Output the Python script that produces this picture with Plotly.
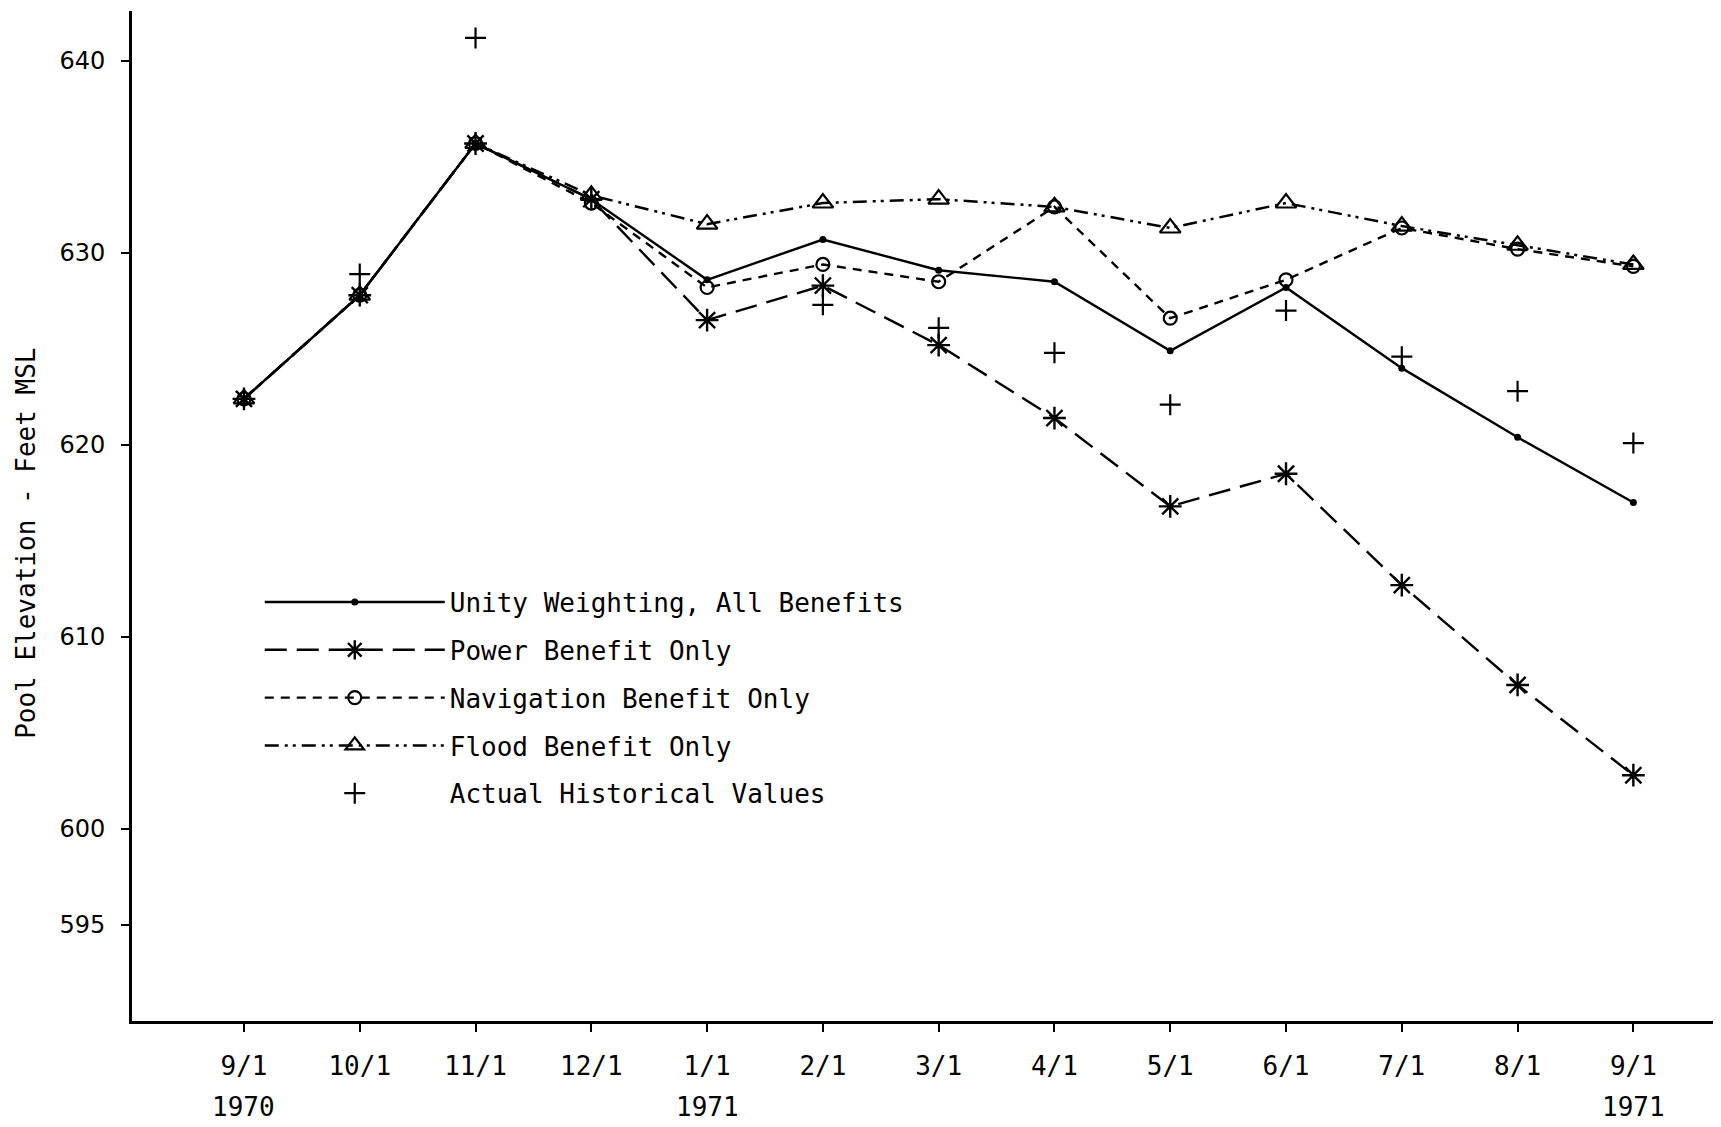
import plotly.graph_objects as go

months = ["9/1", "10/1", "11/1", "12/1", "1/1", "2/1", "3/1", "4/1", "5/1", "6/1", "7/1", "8/1", "9/1"]
years = ["1970", "", "", "", "1971", "", "", "", "", "", "", "", "1971"]
x_idx = list(range(len(months)))

unity = [622.4, 627.8, 635.7, 632.8, 628.6, 630.7, 629.1, 628.5, 624.9, 628.2, 624.0, 620.4, 617.0]
power = [622.4, 627.8, 635.7, 632.8, 626.5, 628.3, 625.2, 621.4, 616.8, 618.5, 612.7, 607.5, 602.8]
navigation = [622.4, 627.8, 635.7, 632.6, 628.2, 629.4, 628.5, 632.4, 626.6, 628.6, 631.3, 630.2, 629.3]
flood = [622.4, 627.8, 635.7, 633.0, 631.5, 632.6, 632.8, 632.4, 631.3, 632.6, 631.4, 630.4, 629.4]
historical = [None, 628.9, 641.2, None, None, 627.3, 626.1, 624.8, 622.1, 627.0, 624.6, 622.8, 620.1]

y_tickvals = [595, 600, 610, 620, 630, 640]

MONO = "DejaVu Sans Mono"

fig = go.Figure()

fig.add_trace(go.Scatter(
    x=x_idx, y=flood, mode="lines+markers", name="Flood Benefit Only",
    line=dict(color="black", width=2.5, dash="14px,6px,3px,5px,3px,6px"),
    marker=dict(symbol="triangle-up-open", size=18, color="black", line=dict(width=2.2, color="black")),
    legendrank=4, legendgroup="g4",
))
fig.add_trace(go.Scatter(
    x=x_idx, y=navigation, mode="lines+markers", name="Navigation Benefit Only",
    line=dict(color="black", width=2.4, dash="9px,7px"),
    marker=dict(symbol="circle-open", size=13, color="black", line=dict(width=2.2, color="black")),
    legendrank=3, legendgroup="g3",
))
fig.add_trace(go.Scatter(
    x=x_idx, y=power, mode="lines+markers", name="Power Benefit Only",
    line=dict(color="black", width=2.4, dash="22px,10px"),
    marker=dict(symbol="asterisk-open", size=19, color="black", line=dict(width=2.4, color="black")),
    legendrank=2, legendgroup="g2",
))
fig.add_trace(go.Scatter(
    x=x_idx, y=unity, mode="lines+markers", name="Unity Weighting, All Benefits",
    line=dict(color="black", width=2.4),
    marker=dict(symbol="circle", size=7, color="black"),
    legendrank=1, legendgroup="g1",
))
fig.add_trace(go.Scatter(
    x=x_idx, y=historical, mode="markers", name="Actual Historical Values",
    marker=dict(symbol="cross-thin-open", size=15, color="black", line=dict(width=2.2, color="black")),
    legendrank=5, legendgroup="g5",
))

fig.update_layout(
    width=1721, height=1127,
    margin=dict(l=124, r=0, t=3, b=114),
    paper_bgcolor="white", plot_bgcolor="white",
    font=dict(family=MONO, color="black", size=26),
    showlegend=True,
    legend=dict(
        x=0.080, y=0.438, xanchor="left", yanchor="top",
        bgcolor="rgba(0,0,0,0)", font=dict(family=MONO, size=26, color="black"),
        itemwidth=180, tracegroupgap=11, traceorder="grouped",
    ),
)

fig.update_xaxes(
    range=[-0.967, 12.826], tickvals=x_idx, ticktext=months,
    showgrid=False, zeroline=False, showline=True, linecolor="black", linewidth=3,
    ticks="outside", ticklen=8, tickwidth=2, tickcolor="black",
    tickfont=dict(family=MONO, size=26, color="black"), ticklabelstandoff=12,
)
fig.update_yaxes(
    range=[590, 642.6], tickvals=y_tickvals, ticktext=[str(v) for v in y_tickvals],
    showgrid=False, zeroline=False, showline=True, linecolor="black", linewidth=3,
    ticks="outside", ticklen=8, tickwidth=2, tickcolor="black",
    tickfont=dict(family="DejaVu Sans", size=24, color="black"), ticklabelstandoff=11,
)

for xi, yr in zip(x_idx, years):
    if yr:
        fig.add_annotation(x=xi, xref="x", y=-0.085, yref="paper", text=yr,
                           showarrow=False, yanchor="middle",
                           font=dict(family=MONO, size=26, color="black"))

fig.add_annotation(x=-0.066, xref="paper", xanchor="center", y=0.473, yref="paper",
                   yanchor="middle",
                   text="Pool Elevation - Feet MSL", textangle=-90, showarrow=False,
                   font=dict(family=MONO, size=26, color="black"))

fig.write_html("out.html")
